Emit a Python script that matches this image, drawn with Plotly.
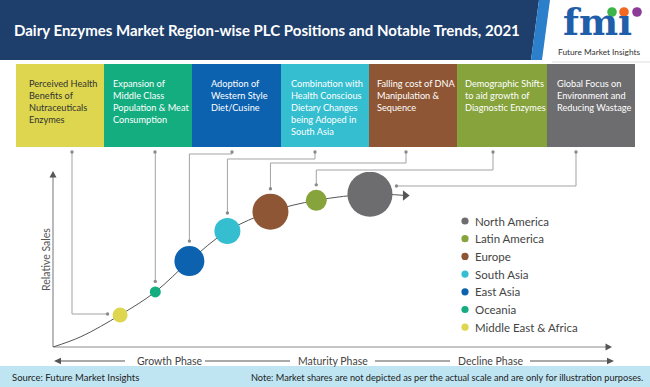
import plotly.graph_objects as go

# ---------------- data ----------------
regions = ["Middle East & Africa", "Oceania", "East Asia", "South Asia",
           "Europe", "Latin America", "North America"]
colors = ["#ddd64e", "#13ad80", "#0d62b0", "#35bed0", "#8e5634", "#86a33c", "#6d6d6f"]
plc_position = [12.0, 18.3, 24.4, 31.2, 38.9, 47.1, 56.7]      # x: PLC position (0-100)
relative_sales = [18.3, 31.5, 49.1, 66.3, 77.3, 83.8, 87.3]     # y: relative sales (0-100)
bubble_size = [15, 11, 30, 26, 36, 21, 45]                      # illustrative share (px diameter)
trends = [
    "Perceived Health<br>Benefits of<br>Nutraceuticals<br>Enzymes",
    "Expansion of<br>Middle Class<br>Population & Meat<br>Consumption",
    "Adoption of<br>Western Style<br>Diet/Cusine",
    "Combination with<br>Health Conscious<br>Dietary Changes<br>being Adoped in<br>South Asia",
    "Falling cost of DNA<br>Manipulation &<br>Sequence",
    "Demographic Shifts<br>to aid growth of<br>Diagnostic Enzymes",
    "Global Focus on<br>Environment and<br>Reducing Wastage",
]
curve_x = [0, 5.0, 12.0, 18.3, 24.4, 31.2, 38.9, 47.1, 56.7, 63.0]
curve_y = [0, 5.9, 18.3, 31.5, 49.1, 66.3, 77.3, 83.8, 87.3, 86.6]
legend_order = ["North America", "Latin America", "Europe", "South Asia",
                "East Asia", "Oceania", "Middle East & Africa"]
phases = ["Growth Phase", "Maturity Phase", "Decline Phase"]
title = "Dairy Enzymes Market Region-wise PLC Positions and Notable Trends, 2021"
source = "Source: Future Market Insights"
note = "Note: Market shares are not depicted as per the actual scale and are only for illustration purposes."

# ---------------- layout helpers ----------------
W, H = 650, 387
FONT = "Lato"
def X(px): return px / W
def Y(py): return 1 - py / H

AX0, AX1, AY0, AY1 = 53, 612, 347, 172
def d2px(v): return AX0 + v / 100 * (AX1 - AX0)
def d2py(v): return AY0 - v / 100 * (AY0 - AY1)

shapes, annots = [], []

def rect(x0, y0, x1, y1, color, layer="below"):
    shapes.append(dict(type="rect", xref="paper", yref="paper", x0=X(x0), x1=X(x1),
                       y0=Y(y1), y1=Y(y0), fillcolor=color, line=dict(width=0), layer=layer))

def path(pts, color=None, fill=None, width=1, closed=False, layer="below"):
    d = "M" + " L".join(f"{X(a):.5f},{Y(b):.5f}" for a, b in pts) + (" Z" if closed else "")
    shapes.append(dict(type="path", xref="paper", yref="paper", path=d, layer=layer,
                       fillcolor=fill if fill else "rgba(0,0,0,0)",
                       line=dict(color=color if color else "rgba(0,0,0,0)", width=width if color else 0)))

def dot(cx, cy, r, color, layer="below"):
    shapes.append(dict(type="circle", xref="paper", yref="paper", x0=X(cx - r), x1=X(cx + r),
                       y0=Y(cy + r), y1=Y(cy - r), fillcolor=color, line=dict(width=0), layer=layer))

def text(x, y, s, size, color, xa="left", ya="middle", bold=False, angle=0, family=FONT):
    annots.append(dict(xref="paper", yref="paper", x=X(x), y=Y(y), text=f"<b>{s}</b>" if bold else s,
                       showarrow=False, xanchor=xa, yanchor=ya, align="left", textangle=angle,
                       font=dict(family=family, size=size, color=color)))

# header
rect(0, 0, 650, 60, "#ffffff")
path([(0, 0), (539, 0), (531, 60), (0, 60)], fill="#1e3e6c", closed=True)
path([(539, 0), (550, 0), (542, 60), (531, 60)], fill="#2b7fcb", closed=True)
text(12, 30, title, 15, "#ffffff", bold=True)
# logo
text(597, 46, "fmı", 37, "#1f5ea9", xa="center", ya="bottom", bold=True, family="DejaVu Serif")
for lx, lc in [(612, "#3db54a"), (624, "#f26a21"), (637, "#8c3b97")]:
    dot(lx, 12, 4.8, lc)
text(599, 52, "Future Market Insights", 8.3, "#333333", xa="center")
path([(552, 62), (650, 62)], color="#dddddd", width=1)

# trend boxes
box_left = [16, 104, 192, 281, 369, 457, 547]
box_right = box_left[1:] + [635]
text_off = [11, 7, 17, 8, 6, 6, 8]
box_dot_x = [72, 155, 232, 315, 406, 493, 576]
for i in range(7):
    rect(box_left[i], 64, box_right[i], 147, colors[i])
    text(box_left[i] + text_off[i], 75.5, trends[i], 9.2,
         "#333333" if i == 0 else "#ffffff", ya="top")

# connectors from boxes to bubbles
routes = [("side", 314), ("drop", 152), ("drop", 154), ("drop", 159),
          ("drop", 163), ("drop", 170), ("side", 186)]
for i, (kind, ey) in enumerate(routes):
    cx, cy = d2px(plc_position[i]), d2py(relative_sales[i])
    r = bubble_size[i] / 2
    sx = box_dot_x[i]
    if kind == "side":
        ex = cx - r - 5 if sx < cx else cx + r + 4
        pts = [(sx, 152), (sx, ey), (ex, ey)]
    else:
        pts = [(sx, 152), (sx, ey), (cx, ey), (cx, cy - r - 5)]
    path(pts, color="#a3a3a3", width=1)
    dot(pts[0][0], pts[0][1], 1.7, "#8a8a8a")
    dot(pts[-1][0], pts[-1][1], 1.7, "#8a8a8a")

# axes with arrows
path([(AX0, AY0), (AX0, 176)], color="#8c8c8c", width=1.2)
path([(AX0, 171), (49.5, 177.5), (56.5, 177.5)], fill="#555555", closed=True)
path([(AX0, AY0), (606, AY0)], color="#8c8c8c", width=1.2)
path([(612, AY0), (605.5, 343.5), (605.5, 350.5)], fill="#555555", closed=True)
text(46, 260, "Relative Sales", 10.5, "#555555", xa="center", angle=-90)

# phase line
PY = 361
for a, b in [(60, 125), (205, 290), (375, 450), (530, 608)]:
    path([(a, PY), (b, PY)], color="#555555", width=1)
path([(54, PY), (61, 357.8), (61, 364.2)], fill="#555555", closed=True)
path([(614, PY), (607, 357.8), (607, 364.2)], fill="#555555", closed=True)
for px_, s in zip([170, 333, 490], phases):
    text(px_, PY, s, 10.5, "#444444", xa="center")

# footer
rect(0, 366, 650, 387, "#bfe5f2")
text(10, 377, source, 9.5, "#222222")
text(645, 377, note, 9.2, "#222222", xa="right")

# legend
for k, name in enumerate(legend_order):
    ly = 221 + k * 17.7
    dot(465, ly, 3.6, colors[regions.index(name)], layer="above")
    text(473, ly, name, 11.5, "#444444")

# ---------------- traces ----------------
fig = go.Figure()
fig.add_trace(go.Scatter(x=curve_x, y=curve_y, mode="lines",
                         line=dict(color="#555555", width=1, shape="spline", smoothing=1),
                         hoverinfo="skip", showlegend=False))
fig.add_trace(go.Scatter(x=[curve_x[-1]], y=[curve_y[-1]], mode="markers",
                         marker=dict(symbol="triangle-right", size=9, color="#555555"),
                         hoverinfo="skip", showlegend=False))
fig.add_trace(go.Scatter(x=plc_position, y=relative_sales, mode="markers",
                         text=regions, hoverinfo="text",
                         marker=dict(size=bubble_size, color=colors, opacity=1, line=dict(width=0)),
                         showlegend=False))

fig.update_layout(
    width=W, height=H, margin=dict(l=0, r=0, t=0, b=0),
    paper_bgcolor="#ffffff", plot_bgcolor="rgba(0,0,0,0)",
    xaxis=dict(domain=[X(AX0), X(AX1)], range=[0, 100], visible=False, fixedrange=True),
    yaxis=dict(domain=[Y(AY0), Y(AY1)], range=[0, 100], visible=False, fixedrange=True),
    shapes=shapes, annotations=annots, showlegend=False,
)
fig.write_html("out.html", config={"displayModeBar": False},
               post_script="document.body.style.margin='0';document.body.style.overflow='hidden';")
